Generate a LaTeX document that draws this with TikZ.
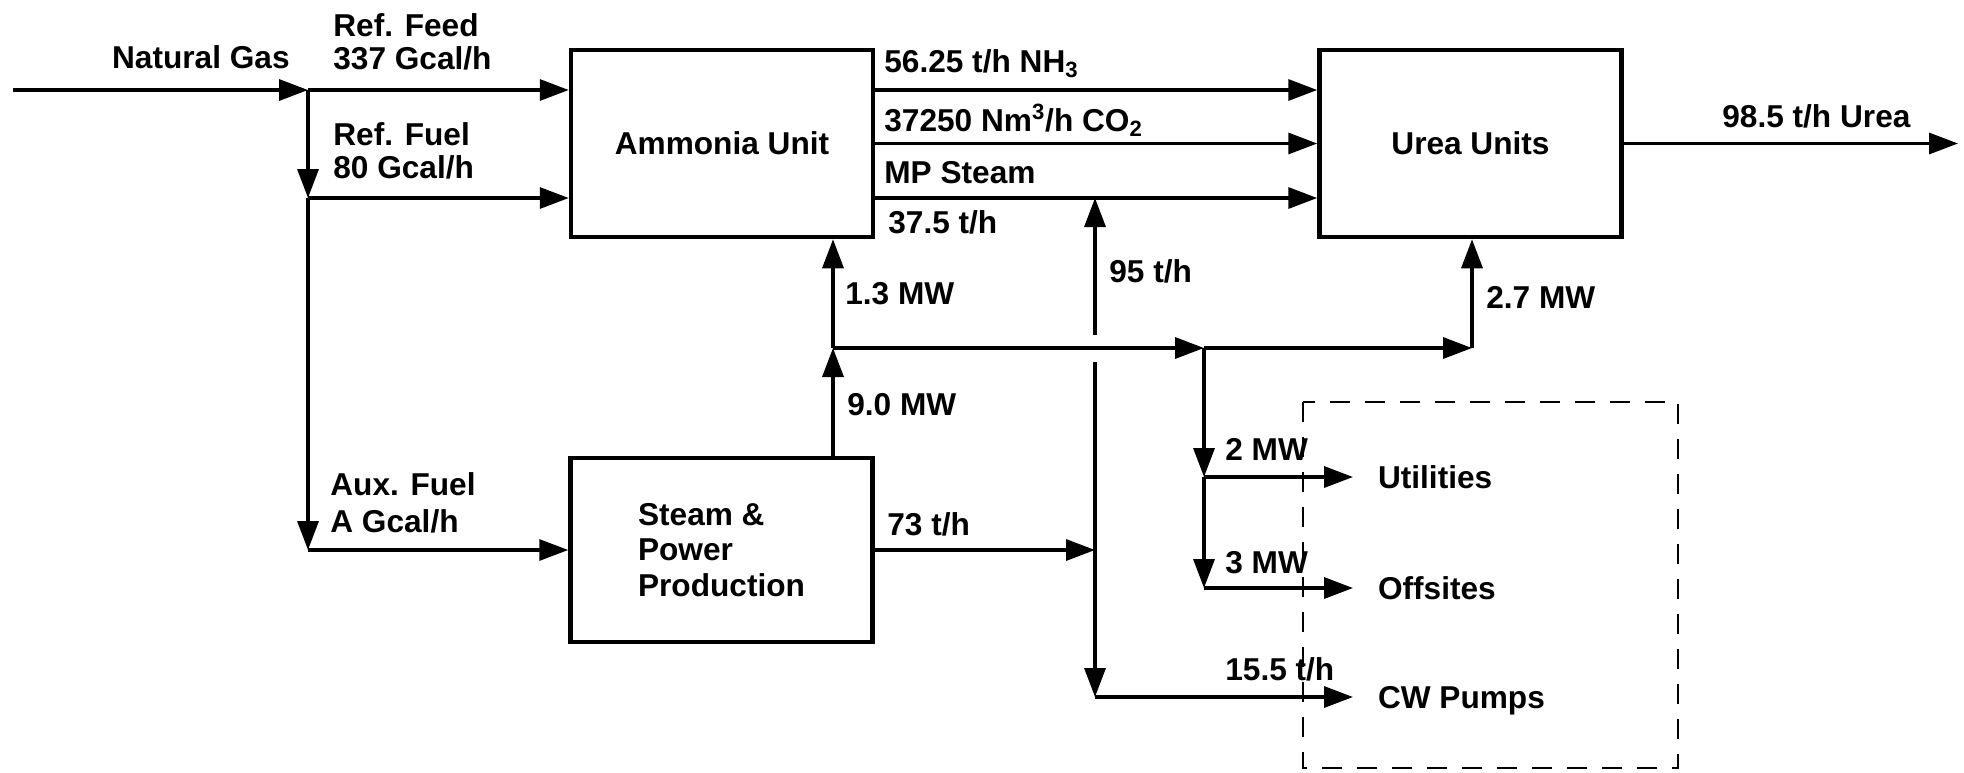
\documentclass[tikz,border=0pt]{standalone}
\usepackage{fontspec}
\setmainfont{Liberation Sans}
\usetikzlibrary{arrows.meta}

\tikzset{
  unit/.style={draw, line width=2.6pt, minimum width=6.04cm, minimum height=3.74cm,
    font=\bfseries\fontsize{18}{20}\selectfont},
  flow/.style={line width=1.9pt, -{Triangle[length=0.58cm,width=0.42cm]}},
  pipe/.style={line width=1.9pt},
  lbl/.style={inner sep=0pt, font=\bfseries\fontsize{18}{20}\selectfont},
  sink/.style={lbl, anchor=west, outer xsep=0.5cm, text depth=0pt},
}

\begin{document}
\begin{tikzpicture}[x=0.02cm, y=-0.02cm]
  \useasboundingbox (0,0) rectangle (1964,772);

  % units
  \node[unit] (ammonia) at (722,143.5) {Ammonia Unit};
  \node[unit] (urea) at (1470.5,143.5) {Urea Units};
  \node[unit, minimum height=3.68cm, align=left] (steam) at (721.5,550) {Steam \&\\Power\\Production};

  % battery limit
  \draw[line width=1.6pt, dash pattern=on 0.4cm off 0.3cm] (1303,402) rectangle (1678,768);

  \node[sink] (utilities) at (1353,477) {Utilities};
  \node[sink] (offsites) at (1353,588) {Offsites};
  \node[sink] (cwpumps) at (1353,697) {CW Pumps};

  \coordinate (gasin) at (13,90);
  \coordinate (split) at (308,90);
  \coordinate (fuelsplit) at (308,198);
  \coordinate (auxsplit) at (308,550);
  \coordinate (nhline) at (0,90);
  \coordinate (mpline) at (0,198);
  \coordinate (ureaout) at (1958,143.5);
  \coordinate (power) at (833,348);
  \coordinate (elsplit) at (1204,348);
  \coordinate (ureapower) at (1472,348);
  \coordinate (utilsplit) at (1204,477);
  \coordinate (offsplit) at (1204,588);
  \coordinate (steamsplit) at (1095,550);
  \coordinate (mpjoin) at (1095,198);
  \coordinate (gaptop) at (1095,335);
  \coordinate (gapbot) at (1095,362);
  \coordinate (cwcorner) at (1095,697);

  % gas
  \draw[flow] (gasin) -- (split);
  \draw[flow] (split) -- (ammonia.west |- split);
  \draw[flow] (split) -- (fuelsplit);
  \draw[flow] (fuelsplit) -- (ammonia.west |- fuelsplit);
  \draw[flow] (fuelsplit) -- (auxsplit);
  \draw[flow] (auxsplit) -- (steam.west);

  \node[lbl, anchor=base east] (natgas) at (290,68) {Natural Gas};
  \node[lbl, anchor=base west] (reffeed) at (333,36) {Ref. Feed};
  \node[lbl, anchor=base west] (reffeedval) at (333,69) {337 Gcal/h};
  \node[lbl, anchor=base west] (reffuel) at (333,145) {Ref. Fuel};
  \node[lbl, anchor=base west] (reffuelval) at (333,178) {80 Gcal/h};
  \node[lbl, anchor=base west] (auxfuel) at (330,495) {Aux. Fuel};
  \node[lbl, anchor=base west] (auxfuelval) at (330,532) {A Gcal/h};

  % ammonia to urea
  \draw[flow] (ammonia.east |- nhline) -- (urea.west |- nhline);
  \draw[flow] (ammonia.east) -- (urea.west);
  \draw[flow] (ammonia.east |- mpline) -- (urea.west |- mpline);
  \draw[flow] (urea.east) -- (ureaout);

  \node[lbl, anchor=base west] (nh3) at (884,72) {56.25 t/h NH\textsubscript{3}};
  \node[lbl, anchor=base west] (co2) at (884,131) {37250 Nm\textsuperscript{3}/h CO\textsubscript{2}};
  \node[lbl, anchor=base west] (mpsteam) at (884,183) {MP Steam};
  \node[lbl, anchor=base west] (mpflow) at (888,233) {37.5 t/h};
  \node[lbl, anchor=base west] (urealbl) at (1722,127) {98.5 t/h Urea};

  % power
  \draw[flow] (power |- steam.north) -- (power);
  \draw[flow] (power) -- (power |- ammonia.south);
  \draw[flow] (power) -- (elsplit);
  \draw[flow] (elsplit) -- (ureapower);
  \draw[flow] (ureapower) -- (ureapower |- urea.south);
  \draw[flow] (elsplit) -- (utilsplit);
  \draw[flow] (utilsplit) -- (offsplit);
  \draw[flow] (utilsplit) -- (utilities.west);
  \draw[flow] (offsplit) -- (offsites.west);

  \node[lbl, anchor=base west] (ammpower) at (845,304) {1.3 MW};
  \node[lbl, anchor=base west] (genpower) at (847,415) {9.0 MW};
  \node[lbl, anchor=base west] (ureapwr) at (1486,308) {2.7 MW};
  \node[lbl, anchor=base west] (utilpwr) at (1225,460) {2 MW};
  \node[lbl, anchor=base west] (offpwr) at (1225,573) {3 MW};

  % steam
  \draw[flow] (steam.east) -- (steamsplit);
  \draw[pipe] (steamsplit) -- (gapbot);
  \draw[flow] (gaptop) -- (mpjoin);
  \draw[flow] (steamsplit) -- (cwcorner);
  \draw[flow] (cwcorner) -- (cwpumps.west);

  \node[lbl, anchor=base west] (steamout) at (887,535) {73 t/h};
  \node[lbl, anchor=base west] (steamup) at (1109,282) {95 t/h};
  \node[lbl, anchor=base west] (cwsteam) at (1225,680) {15.5 t/h};

  % \draw[help lines,step=100] (0,0) grid (1964,772);
\end{tikzpicture}
\end{document}
